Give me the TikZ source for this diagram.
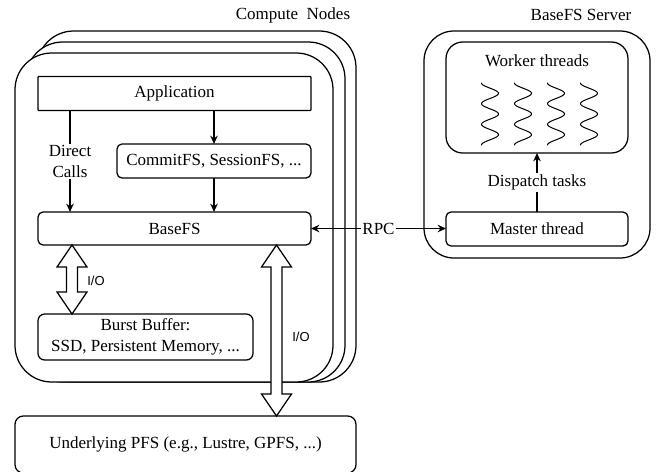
\documentclass[tikz,border=0pt]{standalone}
\usepackage{fontspec}
\newfontfamily\bodyfont{Liberation Serif}
\newfontfamily\iofont{Liberation Sans}
\usetikzlibrary{arrows.meta}
\def\ioarrow(#1:#2:#3){\draw[fill=white] (#1, #2) -- (#1+15, #2+22) -- (#1+5.5, #2+22) -- (#1+5.5, #3-22) -- (#1+15, #3-22) -- (#1, #3) -- (#1-15, #3-22) -- (#1-5.5, #3-22) -- (#1-5.5, #2+22) -- (#1-15, #2+22) -- cycle;}

\tikzset{
  flatbox/.style={draw, fill=white, line width=0.75pt, inner sep=0pt, outer sep=0pt, align=center},
  roundbox/.style={flatbox, rounded corners=3pt},
  stackbox/.style={draw, fill=white, rounded corners=22pt},
  link/.style={-{Stealth[length=5pt,width=4.5pt]}},
  tag/.style={fill=white, inner sep=1pt, align=center},
  iotag/.style={font=\iofont\fontsize{7.8}{9}\selectfont},
  wave/.style={line width=0.6pt, line cap=round}
}

\begin{document}
\begin{tikzpicture}[x=0.6pt, y=-0.6pt, line width=0.75pt,
  font=\bodyfont\fontsize{10.2}{12.4}\selectfont]
			%%%%% START %%%%%
			\useasboundingbox (0, 0) rectangle (658, 471);
			
			\draw[stackbox] (37, 31) rectangle (356, 382);
			\draw[stackbox] (26, 42) rectangle (345, 382);
			\draw[stackbox] (15, 53) rectangle (333, 382);
			\node (computetitle) at (293, 15) {Compute\ \ Nodes};
			
			\draw[stackbox, rounded corners=18pt] (424, 31) rectangle (650, 258);
			\node (servertitle) at (581, 15) {BaseFS Server};
			
			\node[flatbox, rounded corners=0.4pt, minimum width=163.8pt, minimum height=20.4pt] (app) at (174.5, 93.5) {Application};
			\node[roundbox, minimum width=116.4pt, minimum height=20.4pt] (commit) at (214, 161) {CommitFS, SessionFS, ...};
			\node[roundbox, minimum width=163.8pt, minimum height=19.8pt] (basefs) at (174.5, 228.5) {BaseFS};
			\node[roundbox, rounded corners=4pt, minimum width=129pt, minimum height=27.6pt] (burst) at (145.5, 337) {Burst Buffer:\\SSD, Persistent Memory, ...};
			\node[roundbox, rounded corners=5pt, minimum width=204.6pt, minimum height=34.2pt] (pfs) at (185.5, 444.5) {Underlying PFS (e.g., Lustre, GPFS, ...)};
			
			\node[roundbox, rounded corners=10pt, minimum width=109.2pt, minimum height=66.6pt] (worker) at (537, 97.5) {};
			\node (workertitle) at (537, 61) {Worker threads};
			\foreach \cx in {490, 523, 556, 589}
				\draw[wave] plot[domain=0:1080, samples=73, smooth, variable=\t] ({\cx - 8.5*cos(\t)}, {83 + \t/1080*62});
			\node[roundbox, minimum width=109.2pt, minimum height=20.4pt] (master) at (537, 229) {Master thread};
			
			\draw[link] ([xshift=19.2pt]app.south west) -- ([xshift=19.2pt]basefs.north west) node[tag, midway] {Direct\\Calls};
			\draw[link] (app.south -| commit.north) -- (commit.north);
			\draw[link] (commit.south) -- (commit.south |- basefs.north);
			\draw[link] (master.north) -- (worker.south) node[tag, midway] {Dispatch tasks};
			\draw[{Stealth[length=5pt,width=4.5pt]}-{Stealth[length=5pt,width=4.5pt]}] (basefs.east) -- (basefs.east -| master.west) node[tag, midway] {RPC};
			
			\ioarrow(72:245:314)
			\node[iotag] (localiotag) at (96, 281) {I/O};
			\ioarrow(276.5:245:416)
			\node[iotag] (pfsiotag) at (301, 337) {I/O};
			
			%%%%% END %%%%%
\end{tikzpicture}
\end{document}
